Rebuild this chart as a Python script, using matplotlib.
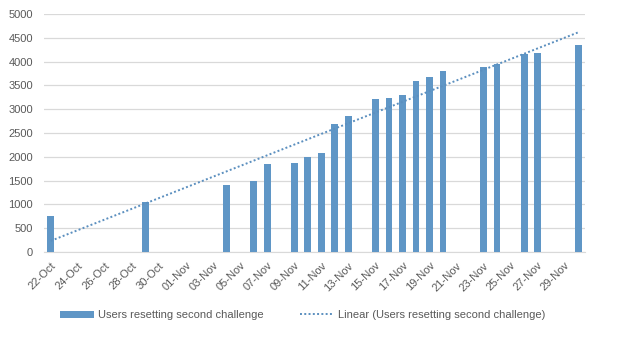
import numpy as np
import pandas as pd
import matplotlib
matplotlib.use("Agg")
import matplotlib.pyplot as plt

dates = ["2017-10-22", "2017-10-29", "2017-11-04", "2017-11-06", "2017-11-07",
         "2017-11-09", "2017-11-10", "2017-11-11", "2017-11-12", "2017-11-13",
         "2017-11-15", "2017-11-16", "2017-11-17", "2017-11-18", "2017-11-19",
         "2017-11-20", "2017-11-23", "2017-11-24", "2017-11-26", "2017-11-27",
         "2017-11-30"]
users = [760, 1050, 1400, 1500, 1840, 1870, 2000, 2080, 2690, 2860,
         3210, 3240, 3300, 3590, 3680, 3810, 3890, 3940, 4150, 4180, 4350]

start = pd.Timestamp("2017-10-22")
end = pd.Timestamp("2017-11-30")
yticks = list(range(0, 5001, 500))

d = pd.to_datetime(dates)
x = np.array((d - start).days)
y = np.array(users)
ndays = (end - start).days

# linear trendline like excel
k, b = np.polyfit(x, y, 1)
xt = np.array([0, ndays])

plt.rcParams['font.family'] = ['Liberation Sans', 'DejaVu Sans']
txt = '#595959'
blue = '#5F96C6'

fig = plt.figure(figsize=(6.31, 3.4), dpi=100)
ax = fig.add_axes([44/631, 1 - 252/340, 541/631, 238/340])

bars = ax.bar(x, y, width=0.5, color=blue, label='Users resetting second challenge', zorder=3)
trend, = ax.plot(xt, k*xt + b, linestyle=(0, (1, 1.2)), color='#5B8FBF', linewidth=1.4,
                 label='Linear (Users resetting second challenge)', zorder=4)

ax.set_xlim(-0.5, ndays + 0.5)
ax.set_ylim(0, 5000)
ax.set_yticks(yticks)
ax.grid(axis='y', color='#D9D9D9', linewidth=0.9, zorder=0)

ticks = np.arange(0, ndays + 1, 2)
labels = [(start + pd.Timedelta(days=int(t))).strftime('%d-%b') for t in ticks]
ax.set_xticks(ticks)
ax.set_xticklabels(labels, rotation=45, ha='right', rotation_mode='anchor')

for s in ['top', 'right', 'left']:
    ax.spines[s].set_visible(False)
ax.spines['bottom'].set_color('#D9D9D9')
ax.tick_params(axis='both', length=0, labelsize=8, colors=txt)
ax.tick_params(axis='x', pad=6)
ax.tick_params(axis='y', pad=8)

fig.legend(handles=[bars, trend], loc='center', bbox_to_anchor=(303/631, 1 - 315/340),
           ncol=2, frameon=False, fontsize=8, handlelength=3, columnspacing=3.3,
           labelcolor=txt, handletextpad=0.4, handleheight=0.6)

fig.savefig('out.png', dpi=100)
